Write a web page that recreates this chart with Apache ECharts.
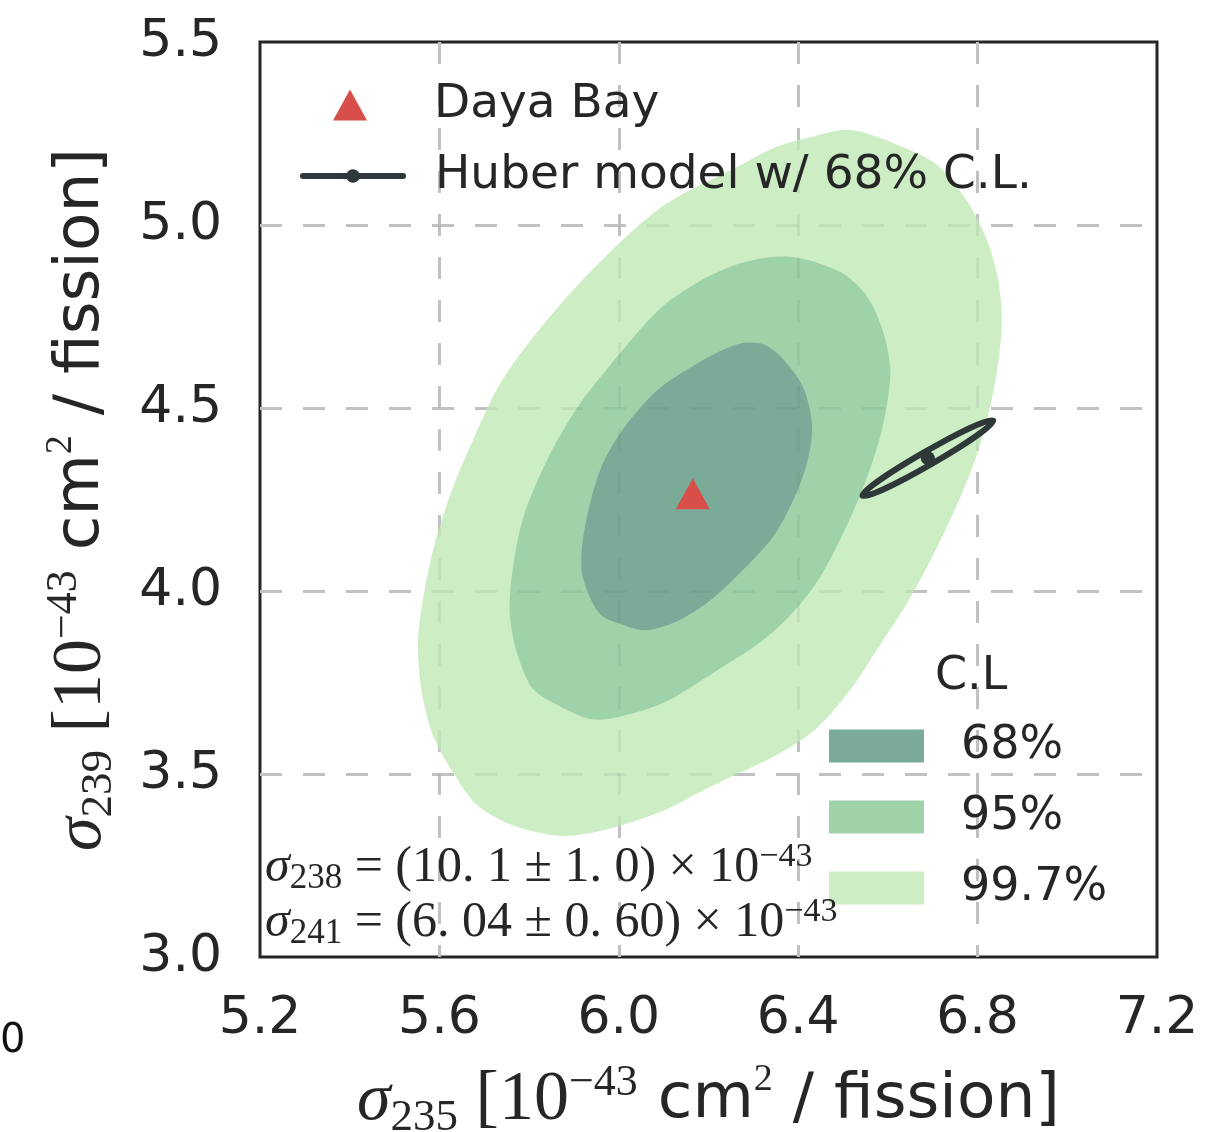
<!DOCTYPE html>
<html><head><meta charset="utf-8">
<script src="https://cdn.jsdelivr.net/npm/echarts@6/dist/echarts.min.js"></script>
<style>html,body{margin:0;padding:0;background:#fff}#c{width:1224px;height:1132px}</style>
</head><body><div id="c"></div>
<script>
// ---- data ----
const xTicks = [5.2, 5.6, 6.0, 6.4, 6.8, 7.2];
const yTicks = [3.0, 3.5, 4.0, 4.5, 5.0, 5.5];
const clLevels = ['68%', '95%', '99.7%'];
// contour boundaries [sigma235, sigma239]
const contour997 = [[6.516,5.260],[6.627,5.216],[6.710,5.164],[6.776,5.066],[6.821,4.959],[6.846,4.850],[6.854,4.740],[6.846,4.623],[6.828,4.503],[6.799,4.374],[6.754,4.235],[6.694,4.082],[6.643,3.967],[6.582,3.852],[6.516,3.730],[6.437,3.620],[6.348,3.549],[6.259,3.497],[6.181,3.451],[6.092,3.396],[5.958,3.344],[5.869,3.331],[5.757,3.363],[5.684,3.415],[5.630,3.505],[5.586,3.604],[5.561,3.721],[5.552,3.852],[5.561,3.959],[5.586,4.112],[5.624,4.262],[5.675,4.413],[5.735,4.566],[5.809,4.694],[5.898,4.822],[5.996,4.945],[6.108,5.060],[6.255,5.153],[6.344,5.210],[6.426,5.240]];
const contour95 = [[6.382,4.913],[6.493,4.872],[6.553,4.806],[6.589,4.710],[6.605,4.612],[6.600,4.525],[6.582,4.418],[6.553,4.309],[6.509,4.180],[6.449,4.038],[6.393,3.948],[6.322,3.866],[6.210,3.776],[6.099,3.694],[5.987,3.653],[5.936,3.650],[5.876,3.680],[5.809,3.732],[5.773,3.831],[5.757,3.937],[5.762,4.046],[5.786,4.197],[5.840,4.358],[5.907,4.500],[6.003,4.650],[6.092,4.771],[6.181,4.847],[6.281,4.899]];
const contour68 = [[6.281,4.678],[6.326,4.672],[6.366,4.634],[6.411,4.557],[6.431,4.451],[6.420,4.352],[6.388,4.246],[6.344,4.148],[6.284,4.066],[6.210,3.980],[6.136,3.921],[6.063,3.893],[6.018,3.904],[5.958,3.937],[5.920,4.036],[5.918,4.120],[5.936,4.240],[5.965,4.350],[6.018,4.456],[6.092,4.555],[6.181,4.626],[6.237,4.661]];
const dayaBay = [[6.165, 4.266]];
const huberCenter = [[6.689, 4.363]];
// Huber 68% ellipse: centre, end of major axis, end of minor axis
const huberEllipse = [[6.689, 4.363], [6.835, 4.466], [6.697, 4.347]];

const C_OUT = '#cdeec4', C_MID = '#9ed2a8', C_IN = '#7aab98';
const RED = '#d84f4a', DARK = '#2f3838', TXT = '#262626';
const SERIF = 'Liberation Serif', SANS = 'DejaVu Sans';

function polygonRender(params, api) {
  if (params.dataIndexInside !== 0) return null;
  const pts = [];
  for (let i = 0; i < params.dataInsideLength; i++) {
    pts.push(api.coord([api.value(0, i), api.value(1, i)]));
  }
  return { type: 'polygon', shape: { points: pts, smooth: 0.3 }, style: { fill: api.visual('color') } };
}
function ellipseRender(params, api) {
  if (params.dataIndexInside !== 0) return null;
  const c = api.coord([api.value(0, 0), api.value(1, 0)]);
  const a = api.coord([api.value(0, 1), api.value(1, 1)]);
  const b = api.coord([api.value(0, 2), api.value(1, 2)]);
  const rx = Math.hypot(a[0] - c[0], a[1] - c[1]);
  const ry = Math.hypot(b[0] - c[0], b[1] - c[1]);
  return { type: 'ellipse', x: c[0], y: c[1], rotation: -Math.atan2(a[1] - c[1], a[0] - c[0]),
    shape: { cx: 0, cy: 0, rx: rx, ry: ry }, style: { fill: 'none', stroke: DARK, lineWidth: 6 } };
}

const titleRich = {
  s: { fontFamily: SERIF, fontStyle: 'italic', fontSize: 68, lineHeight: 80, color: TXT },
  sub: { fontFamily: SERIF, fontSize: 45, lineHeight: 38, verticalAlign: 'bottom', color: TXT },
  m: { fontFamily: SERIF, fontSize: 70, lineHeight: 80, color: TXT },
  sup: { fontFamily: SERIF, fontSize: 44, lineHeight: 38, verticalAlign: 'top', color: TXT },
  t: { fontFamily: SANS, fontSize: 63, lineHeight: 80, color: TXT },
  sup2: { fontFamily: SERIF, fontSize: 38, lineHeight: 38, verticalAlign: 'top', color: TXT }
};
const annRich = {
  s: { fontFamily: SERIF, fontStyle: 'italic', fontSize: 50, lineHeight: 56, fill: TXT },
  sub: { fontFamily: SERIF, fontSize: 35, lineHeight: 26, verticalAlign: 'bottom', fill: TXT },
  m: { fontFamily: SERIF, fontSize: 50, lineHeight: 56, fill: TXT },
  sup: { fontFamily: SERIF, fontSize: 34, lineHeight: 27, verticalAlign: 'top', fill: TXT }
};

const baseSplit = { show: true, showMinLine: false, showMaxLine: false, lineStyle: { color: '#cccccc', width: 3, type: [22, 21] } };
const faintSplit = { show: true, showMinLine: false, showMaxLine: false, lineStyle: { color: 'rgba(90,110,100,0.10)', width: 3, type: [22, 21] } };
const hiddenAxisParts = { axisLine: { show: false }, axisTick: { show: false }, axisLabel: { show: false } };

const chart = echarts.init(document.getElementById('c'), null, { renderer: 'canvas' });
chart.setOption({
  animation: false,
  backgroundColor: '#ffffff',
  grid: { left: 260, top: 42, right: 67, bottom: 175, outerBoundsMode: 'none', containLabel: false,
    show: true, borderColor: TXT, borderWidth: 3, backgroundColor: 'transparent' },
  title: { text: 'C.L', left: 935, top: 653, padding: 0,
    textStyle: { fontSize: 46, fontWeight: 'normal', fontFamily: SANS, color: TXT, lineHeight: 48 } },
  legend: [
    { data: ['Daya Bay'], left: 333, top: 81, padding: 0, orient: 'vertical', itemWidth: 34, itemHeight: 31, selectedMode: false,
      textStyle: { fontSize: 47, fontFamily: SANS, color: TXT, lineHeight: 48, padding: [0, 0, 0, 62] } },
    { data: ['Huber model w/ 68% C.L.'], left: 300, top: 152, padding: 0, orient: 'vertical', itemWidth: 100, itemHeight: 17, selectedMode: false,
      lineStyle: { width: 6, color: DARK, cap: 'round' },
      textStyle: { fontSize: 47, fontFamily: SANS, color: TXT, lineHeight: 48, padding: [0, 0, 0, 27] } },
    { data: clLevels, left: 829, top: 722, padding: 0, orient: 'vertical', itemWidth: 95, itemHeight: 33, itemGap: 23, icon: 'rect', selectedMode: false,
      textStyle: { fontSize: 46, fontFamily: SANS, color: TXT, lineHeight: 48, padding: [0, 0, 0, 32] } }
  ],
  xAxis: [
    { type: 'value', min: xTicks[0], max: xTicks[xTicks.length - 1], interval: 0.4,
      axisLine: { show: false }, axisTick: { show: false },
      axisLabel: { margin: 36, fontSize: 52, color: TXT, fontFamily: SANS, formatter: v => v.toFixed(1) },
      splitLine: baseSplit,
      name: '{s|σ}{sub|235}{m| [10}{sup|−43}{t| cm}{sup2|2}{t| / fission]}',
      nameLocation: 'middle', nameGap: 104, nameTextStyle: { rich: titleRich } },
    Object.assign({ type: 'value', min: xTicks[0], max: xTicks[xTicks.length - 1], interval: 0.4, z: 2, splitLine: faintSplit }, hiddenAxisParts)
  ],
  yAxis: [
    { type: 'value', min: yTicks[0], max: yTicks[yTicks.length - 1], interval: 0.5,
      axisLine: { show: false }, axisTick: { show: false },
      axisLabel: { margin: 38, fontSize: 52, color: TXT, fontFamily: SANS, formatter: v => v.toFixed(1) },
      splitLine: baseSplit,
      name: '{s|σ}{sub|239}{m| [10}{sup|−43}{t| cm}{sup2|2}{t| / fission]}',
      nameLocation: 'middle', nameRotate: 90, nameGap: 138, nameTextStyle: { rich: titleRich } },
    Object.assign({ type: 'value', min: yTicks[0], max: yTicks[yTicks.length - 1], interval: 0.5, z: 2, splitLine: faintSplit }, hiddenAxisParts)
  ],
  series: [
    { name: '99.7%', type: 'custom', z: 1, renderItem: polygonRender, data: contour997, itemStyle: { color: C_OUT }, silent: true },
    { name: '95%', type: 'custom', z: 1, renderItem: polygonRender, data: contour95, itemStyle: { color: C_MID }, silent: true },
    { name: '68%', type: 'custom', z: 1, renderItem: polygonRender, data: contour68, itemStyle: { color: C_IN }, silent: true },
    { name: 'Huber ellipse', type: 'custom', z: 3, renderItem: ellipseRender, data: huberEllipse, itemStyle: { color: DARK }, silent: true },
    { name: 'Huber model w/ 68% C.L.', type: 'line', z: 4, data: huberCenter, symbol: 'circle', symbolSize: 14,
      itemStyle: { color: DARK }, lineStyle: { width: 6, color: DARK }, silent: true },
    { name: 'Daya Bay', type: 'scatter', z: 5, data: dayaBay, symbol: 'triangle', symbolSize: [34, 31],
      itemStyle: { color: RED, opacity: 1 }, silent: true }
  ],
  graphic: [
    { type: 'text', left: 265, top: 840, z: 10,
      style: { text: '{s|σ}{sub|238}{m| = (10. 1 ± 1. 0) × 10}{sup|−43}', rich: annRich } },
    { type: 'text', left: 265, top: 895, z: 10,
      style: { text: '{s|σ}{sub|241}{m| = (6. 04 ± 0. 60) × 10}{sup|−43}', rich: annRich } },
    { type: 'text', left: 0, top: 1022, style: { text: '0', fontSize: 40, fontFamily: SANS, fill: '#111' } }
  ]
});
</script></body></html>
